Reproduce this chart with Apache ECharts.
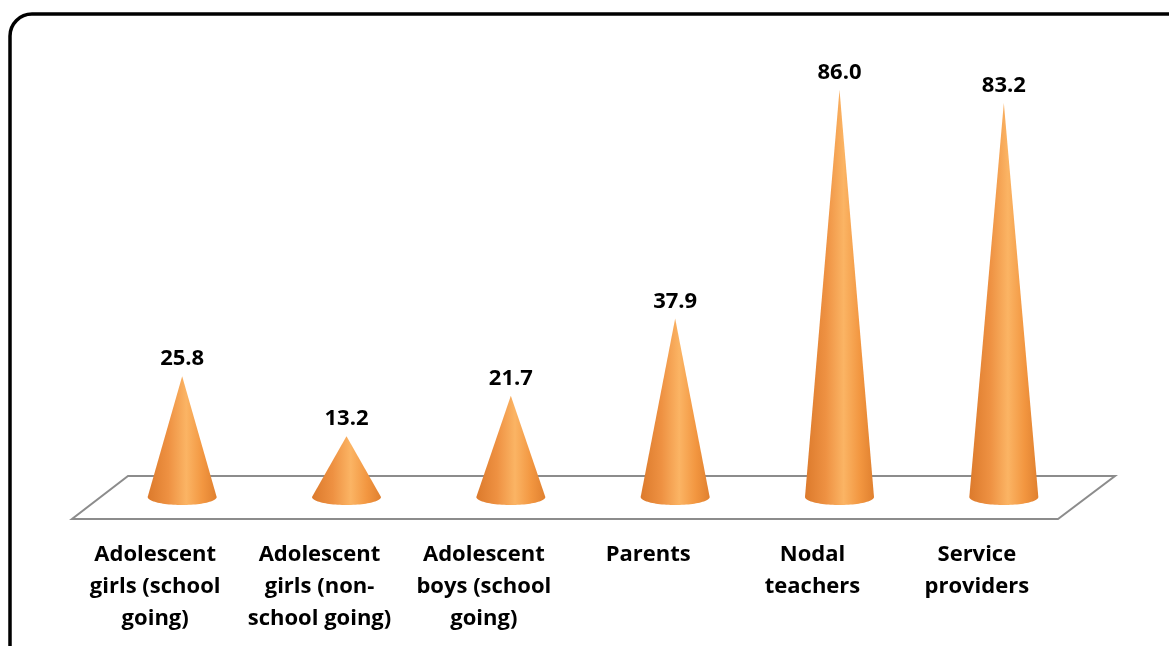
<!DOCTYPE html>
<html>
<head>
<meta charset="utf-8">
<title>Cone chart</title>
<script src="https://cdn.jsdelivr.net/npm/echarts@6/dist/echarts.min.js"></script>
<style>
  html, body { margin: 0; padding: 0; background: #fff; }
  #chart { width: 1169px; height: 646px; }
</style>
</head>
<body>
<div id="chart"></div>
<script>
// Respondent groups shown along the floor
const categories = [
  'Adolescent\ngirls (school\ngoing)',
  'Adolescent\ngirls (non-\nschool going)',
  'Adolescent\nboys (school\ngoing)',
  'Parents',
  'Nodal\nteachers',
  'Service\nproviders'
];

// Percentage for each group
const values = [25.8, 13.2, 21.7, 37.9, 86.0, 83.2];

const FONT = '"Open Sans", Lato, "DejaVu Sans", sans-serif';

const chart = echarts.init(document.getElementById('chart'), null, { renderer: 'canvas' });

// Grid that holds the cones; the label grid is shifted left to follow the floor's front edge
const plotGrid = { left: 100, right: 83, top: 23, bottom: 147, outerBoundsMode: 'none' };
const labelGrid = { left: 73, right: 110, top: 23, bottom: 147, outerBoundsMode: 'none' };

// Floor parallelogram under the cones, placed relative to the plot area
function renderFloor(params, api) {
  const cs = params.coordSys;
  const x0 = cs.x, x1 = cs.x + cs.width, yb = cs.y + cs.height;
  return {
    type: 'polygon',
    shape: {
      points: [
        [x0 + 28, yb - 23],
        [x1 + 29, yb - 23],
        [x1 - 28, yb + 20],
        [x0 - 28, yb + 20]
      ]
    },
    style: { fill: '#ffffff', stroke: '#8c8c8c', lineWidth: 2 },
    z2: 0
  };
}

// A cone: apex at the value, elliptical base on the zero line
function renderCone(params, api) {
  const idx = api.value(0);
  const val = api.value(1);
  const apex = api.coord([idx, val]);
  const base = api.coord([idx, 0]);
  const band = api.size([1, 0])[0];
  const rx = band * 0.21;
  const ry = 8;
  const cx = base[0], cy = base[1] - 2;

  const pts = [[apex[0], apex[1]], [cx + rx, cy]];
  const steps = 48;
  for (let k = 1; k < steps; k++) {
    const t = Math.PI * k / steps;
    pts.push([cx + rx * Math.cos(t), cy + ry * Math.sin(t)]);
  }
  pts.push([cx - rx, cy]);

  const fill = new echarts.graphic.LinearGradient(0, 0, 1, 0, [
    { offset: 0, color: '#dc7a2c' },
    { offset: 0.3, color: '#ee9142' },
    { offset: 0.56, color: '#fbb464' },
    { offset: 0.8, color: '#f29640' },
    { offset: 1, color: '#e0802f' }
  ]);

  return {
    type: 'group',
    children: [
      {
        type: 'polygon',
        shape: { points: pts },
        style: { fill: fill, stroke: null }
      },
      {
        type: 'text',
        x: apex[0],
        y: apex[1] - 6,
        style: {
          text: val.toFixed(1),
          fill: '#000000',
          font: 'bold 22px ' + FONT,
          align: 'center',
          verticalAlign: 'bottom'
        }
      }
    ]
  };
}

const option = {
  backgroundColor: '#ffffff',
  animation: false,
  grid: [plotGrid, labelGrid],
  xAxis: [
    {
      type: 'category',
      gridIndex: 0,
      data: categories,
      axisLine: { show: false },
      axisTick: { show: false },
      axisLabel: { show: false },
      splitLine: { show: false }
    },
    {
      type: 'category',
      gridIndex: 1,
      data: categories,
      axisLine: { show: false },
      axisTick: { show: false },
      splitLine: { show: false },
      axisLabel: {
        show: true,
        interval: 0,
        margin: 40,
        color: '#000000',
        fontFamily: FONT,
        fontWeight: 'bold',
        fontSize: 22,
        lineHeight: 32,
        align: 'center'
      }
    }
  ],
  yAxis: [
    { type: 'value', gridIndex: 0, min: 0, max: 100, show: false },
    { type: 'value', gridIndex: 1, min: 0, max: 100, show: false }
  ],
  graphic: [
    {
      type: 'rect',
      shape: { x: 10, y: 14, width: 1200, height: 700, r: 22 },
      style: { fill: null, stroke: '#000000', lineWidth: 3.5 },
      z: 100,
      silent: true
    }
  ],
  series: [
    {
      type: 'custom',
      xAxisIndex: 0,
      yAxisIndex: 0,
      renderItem: renderFloor,
      data: [[0, 0]],
      clip: false,
      silent: true,
      z: 1
    },
    {
      type: 'custom',
      xAxisIndex: 0,
      yAxisIndex: 0,
      renderItem: renderCone,
      data: values.map((v, i) => [i, v]),
      clip: false,
      silent: true,
      z: 2
    }
  ]
};

chart.setOption(option);
</script>
</body>
</html>
